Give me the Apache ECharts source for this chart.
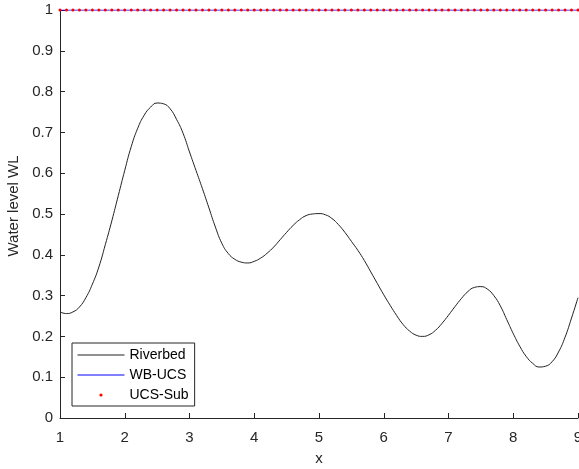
<!DOCTYPE html>
<html><head><meta charset="utf-8">
<script src="https://cdn.jsdelivr.net/npm/echarts@6/dist/echarts.min.js"></script>
<style>html,body{margin:0;padding:0;background:#fff}#c{width:579px;height:469px}</style>
</head><body><div id="c"></div>
<script>
const xValues = [1.0,1.1,1.2,1.3,1.4,1.5,1.6,1.7,1.8,1.9,
  2.0,2.1,2.2,2.3,2.4,2.5,2.6,2.7,2.8,2.9,
  3.0,3.1,3.2,3.3,3.4,3.5,3.6,3.7,3.8,3.9,
  4.0,4.1,4.2,4.3,4.4,4.5,4.6,4.7,4.8,4.9,
  5.0,5.1,5.2,5.3,5.4,5.5,5.6,5.7,5.8,5.9,
  6.0,6.1,6.2,6.3,6.4,6.5,6.6,6.7,6.8,6.9,
  7.0,7.1,7.2,7.3,7.4,7.5,7.6,7.7,7.8,7.9,
  8.0,8.1,8.2,8.3,8.4,8.5,8.6,8.7,8.8,8.9,9.0];
const riverbed = [0.260,0.256,0.260,0.272,0.295,0.328,0.370,0.425,0.483,0.545,
  0.607,0.665,0.710,0.742,0.762,0.772,0.770,0.758,0.732,0.698,
  0.652,0.607,0.562,0.515,0.468,0.428,0.403,0.389,0.382,0.380,
  0.384,0.392,0.404,0.419,0.437,0.455,0.472,0.486,0.496,0.500,
  0.501,0.498,0.489,0.474,0.455,0.433,0.411,0.386,0.358,0.330,
  0.302,0.276,0.251,0.229,0.213,0.203,0.200,0.204,0.215,0.232,
  0.252,0.273,0.293,0.310,0.320,0.322,0.316,0.300,0.275,0.241,
  0.207,0.176,0.151,0.134,0.125,0.127,0.138,0.162,0.198,0.245,0.295];
const wbUcs = [1,1,1,1,1,1,1,1,1,1, 1,1,1,1,1,1,1,1,1,1, 1,1,1,1,1,1,1,1,1,1,
  1,1,1,1,1,1,1,1,1,1, 1,1,1,1,1,1,1,1,1,1, 1,1,1,1,1,1,1,1,1,1,
  1,1,1,1,1,1,1,1,1,1, 1,1,1,1,1,1,1,1,1,1, 1];
const ucsSub = [1,1,1,1,1,1,1,1,1,1, 1,1,1,1,1,1,1,1,1,1, 1,1,1,1,1,1,1,1,1,1,
  1,1,1,1,1,1,1,1,1,1, 1,1,1,1,1,1,1,1,1,1, 1,1,1,1,1,1,1,1,1,1,
  1,1,1,1,1,1,1,1,1,1, 1,1,1,1,1,1,1,1,1,1, 1];
const seriesNames = ['Riverbed','WB-UCS','UCS-Sub'];

const FONT = '"Liberation Sans", Arial, Helvetica, sans-serif';
const AX = '#262626';
const pair = arr => xValues.map((x, i) => [x, arr[i]]);

const chart = echarts.init(document.getElementById('c'), null, {renderer: 'canvas'});
chart.setOption({
  animation: false,
  backgroundColor: '#fff',
  grid: {left: 60, right: 1, top: 10, bottom: 51, containLabel: false, outerBoundsMode: 'none'},
  xAxis: {
    type: 'value', min: 1, max: 9, interval: 1,
    name: 'x', nameLocation: 'middle', nameGap: 33,
    nameTextStyle: {fontFamily: FONT, fontSize: 15, color: AX},
    axisLine: {show: true, lineStyle: {color: AX, width: 1}},
    axisTick: {show: true, inside: true, length: 5, lineStyle: {color: AX}},
    axisLabel: {margin: 12, fontFamily: FONT, fontSize: 15, color: AX},
    splitLine: {show: false}
  },
  yAxis: {
    type: 'value', min: 0, max: 1, interval: 0.1,
    name: 'Water level WL', nameLocation: 'middle', nameGap: 38,
    nameTextStyle: {fontFamily: FONT, fontSize: 15, color: AX, padding: [0, 0, 0, 16]},
    axisLine: {show: true, lineStyle: {color: AX, width: 1}},
    axisTick: {show: true, inside: true, length: 5, lineStyle: {color: AX}},
    axisLabel: {margin: 7, fontFamily: FONT, fontSize: 15, color: AX},
    splitLine: {show: false}
  },
  legend: {
    orient: 'vertical', left: 72, top: 343,
    itemWidth: 47, itemHeight: 4, itemGap: 4,
    padding: [4, 6, 3, 5],
    borderColor: AX, borderWidth: 1, borderRadius: 0, backgroundColor: '#fff',
    textStyle: {fontFamily: FONT, fontSize: 14, color: '#000', lineHeight: 16},
    lineStyle: {width: 1},
    data: [
      {name: seriesNames[0], itemStyle: {opacity: 0}},
      {name: seriesNames[1], itemStyle: {opacity: 0}},
      {name: seriesNames[2]}
    ]
  },
  series: [
    {
      name: seriesNames[0], type: 'line', data: pair(riverbed),
      symbol: 'none', showSymbol: false, smooth: 0.5,
      color: '#000', lineStyle: {color: '#222', width: 1}, z: 2
    },
    {
      name: seriesNames[1], type: 'line', data: pair(wbUcs),
      symbol: 'none', showSymbol: false,
      color: '#0000ff', lineStyle: {color: '#0000ff', width: 1}, z: 3
    },
    {
      name: seriesNames[2], type: 'line', data: pair(ucsSub),
      symbol: 'circle', symbolSize: 3, showSymbol: true, showAllSymbol: true,
      color: '#ff0000', itemStyle: {color: '#ff0000', borderWidth: 0},
      lineStyle: {width: 0, opacity: 0}, z: 4
    }
  ]
});
</script></body></html>
